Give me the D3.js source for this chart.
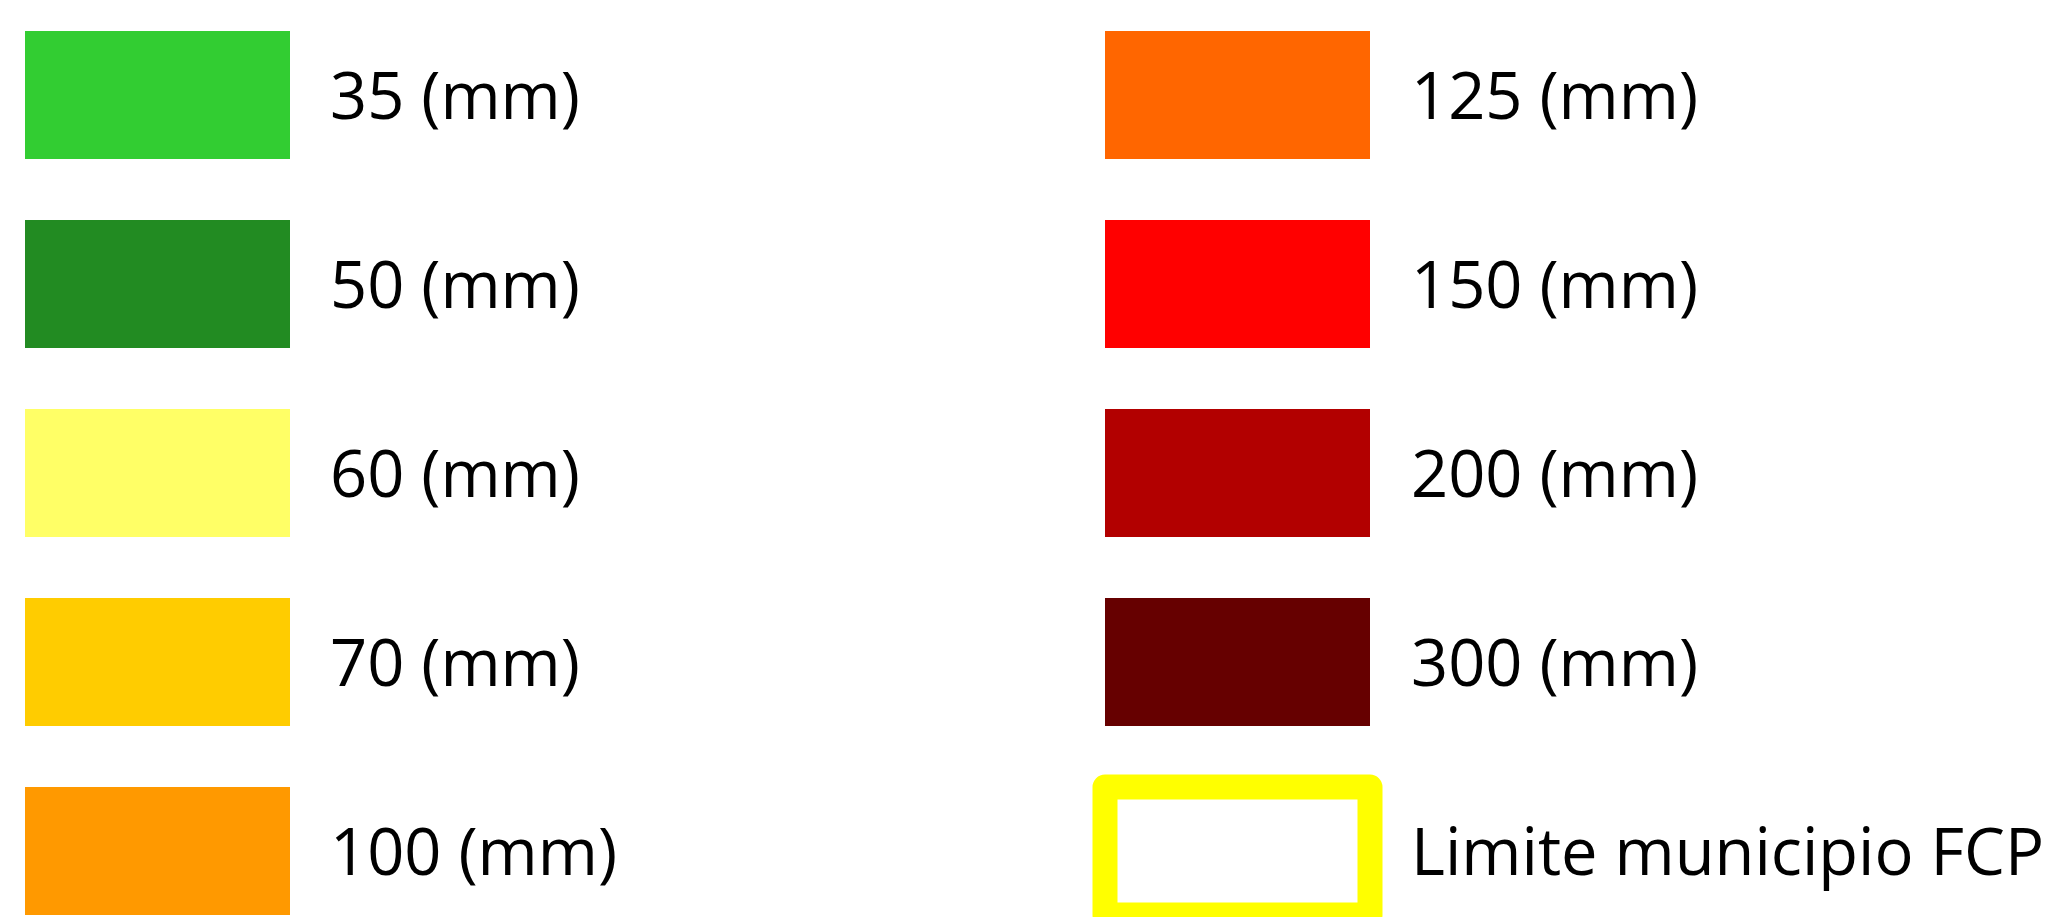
<!DOCTYPE html>
<html>
<head>
<meta charset="utf-8">
<script src="https://cdn.jsdelivr.net/npm/d3@7"></script>
<style>
  html, body { margin: 0; padding: 0; background: #fff; overflow: hidden; }
</style>
</head>
<body>
<div id="wrapper"></div>
<script>
// legend data
const labels = ["35 (mm)", "50 (mm)", "60 (mm)", "70 (mm)", "100 (mm)",
                "125 (mm)", "150 (mm)", "200 (mm)", "300 (mm)", "Limite municipio FCP"];
const colors = ["#32CD32", "#228B22", "#FFFF66", "#FFCC00", "#FF9900",
                "#FF6600", "#FF0000", "#B20000", "#660000", "#FFFF00"];
const kinds = ["fill", "fill", "fill", "fill", "fill",
               "fill", "fill", "fill", "fill", "outline"];

function drawLegend() {
  const width = 2056;
  const height = 917;

  const svg = d3.select("#wrapper")
    .append("svg")
    .attr("width", width)
    .attr("height", height);

  const items = labels.map((label, i) => ({
    label,
    color: colors[i],
    kind: kinds[i],
    col: Math.floor(i / 5),
    row: i % 5,
  }));

  // scales for grid placement (step 189, swatch 128 high)
  const rowScale = d3.scaleBand()
    .domain(d3.range(5))
    .range([31, 31 + 4 * 189 + 128])
    .paddingInner(61 / 189)
    .paddingOuter(0)
    .align(0);

  const colScale = d3.scaleOrdinal()
    .domain([0, 1])
    .range([25, 1105]);

  const swatchW = 265;
  const rowH = rowScale.bandwidth();

  const item = svg.selectAll("g.item")
    .data(items)
    .join("g")
    .attr("class", "item")
    .attr("transform", d => `translate(${colScale(d.col)},${rowScale(d.row)})`);

  item.filter(d => d.kind === "fill")
    .append("rect")
    .attr("width", swatchW)
    .attr("height", rowH)
    .attr("fill", d => d.color);

  // boundary symbol: thick yellow outline
  item.filter(d => d.kind === "outline")
    .append("rect")
    .attr("width", swatchW)
    .attr("height", rowH)
    .attr("fill", "#fff")
    .attr("stroke", d => d.color)
    .attr("stroke-width", 25)
    .attr("stroke-linejoin", "round");

  item.append("text")
    .attr("x", d => (d.col === 0 ? 305 : 306))
    .attr("y", rowH / 2 + 24)
    .style("font-family", "'Open Sans', sans-serif")
    .style("font-size", "65px")
    .style("fill", "#000")
    .text(d => d.label);
}

drawLegend();
</script>
</body>
</html>
